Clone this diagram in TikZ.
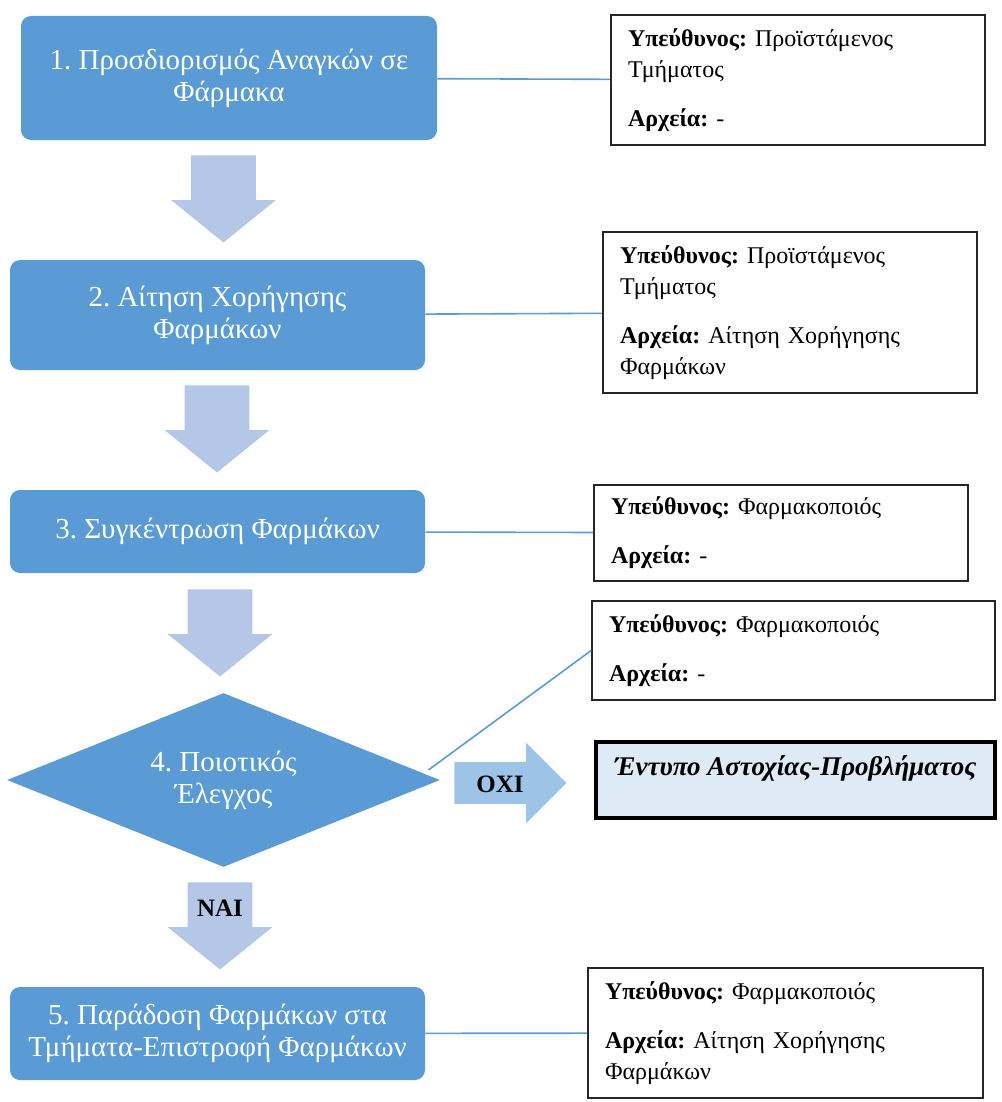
\documentclass[tikz,border=0pt]{standalone}
\usepackage{fontspec}
\setmainfont{Liberation Serif}
\frenchspacing
\usetikzlibrary{shapes.geometric, shapes.arrows, positioning}
\definecolor{stepblue}{HTML}{5B9BD5}
\definecolor{flowblue}{HTML}{B4C7E7}
\definecolor{noblue}{HTML}{9DC3E6}
\definecolor{formblue}{HTML}{DEEBF7}

\begin{document}
\begin{tikzpicture}[x=0.5pt,y=-0.5pt]
  \tikzstyle{stepbox}=[rectangle, rounded corners=5pt, fill=stepblue, text=white, inner sep=0pt, align=center, font=\fontsize{14.5}{16}\selectfont]
  \tikzstyle{infobox}=[rectangle, draw=black!85, line width=0.8pt, inner xsep=8.5pt, inner ysep=0pt, align=left, font=\fontsize{12}{15.5}\selectfont]
  \tikzstyle{flow}=[single arrow, anchor=tip, fill=flowblue, shape border rotate=270, text width=24pt, align=center, inner xsep=4pt, inner ysep=0pt, minimum height=43.5pt, single arrow head extend=10pt, single arrow tip angle=102, font=\fontsize{12.5}{14}\bfseries]
  \tikzstyle{link}=[draw=stepblue, line width=0.8pt]
  \useasboundingbox (0,0) rectangle (1001,1102);

  \node[stepbox, minimum width=208pt, minimum height=62pt] (s1) at (229,78) {1. Προσδιορισμός Αναγκών σε\\Φάρμακα};
  \node[stepbox, minimum width=207.5pt, minimum height=55pt] (s2) at (217.5,315) {2. Αίτηση Χορήγησης\\Φαρμάκων};
  \node[stepbox, minimum width=207.5pt, minimum height=41.5pt] (s3) at (217.5,531.5) {3. Συγκέντρωση Φαρμάκων};
  \node[diamond, shape aspect=2.49, fill=stepblue, text=white, inner sep=0pt, minimum width=216.5pt, minimum height=87pt, align=center, font=\fontsize{14.5}{16}\selectfont] (s4) at (223.5,780) {4. Ποιοτικός\\Έλεγχος};
  \node[stepbox, minimum width=207.5pt, minimum height=46.5pt] (s5) at (217.5,1033.5) {5. Παράδοση Φαρμάκων στα\\Τμήματα-Επιστροφή Φαρμάκων};

  \node[flow] (f1) at (223.5,243) {};
  \node[flow] (f2) at (217,473) {};
  \node[flow] (f3) at (220,677) {};
  \node[flow, text height=9pt, text depth=5pt] (f4) at (220,970) {NAI};
  \node[single arrow, anchor=tip, fill=noblue, text height=9pt, text depth=0pt, inner xsep=0pt, inner ysep=5.75pt, minimum height=56pt, single arrow head extend=9.75pt, single arrow tip angle=90, font=\fontsize{12.5}{14}\bfseries] (no) at (567,783) {OXI};

  \node[infobox, minimum width=187pt, minimum height=65pt, text width=170pt] (r1) at (798,80)
    {\textbf{Υπεύθυνος:} Προϊστάμενος\\Τμήματος\\[9pt]\textbf{Αρχεία:} -};
  \node[infobox, minimum width=187pt, minimum height=80.5pt, text width=170pt] (r2) at (790,312.5)
    {\textbf{Υπεύθυνος:} Προϊστάμενος\\Τμήματος\\[9pt]\textbf{Αρχεία:} Αίτηση Χορήγησης\\Φαρμάκων};
  \node[infobox, minimum width=187pt, minimum height=48pt, text width=170pt] (r3) at (781,533)
    {\textbf{Υπεύθυνος:} Φαρμακοποιός\\[9pt]\textbf{Αρχεία:} -};
  \node[infobox, minimum width=201.5pt, minimum height=49.5pt, text width=184.5pt] (r4) at (793.5,650.5)
    {\textbf{Υπεύθυνος:} Φαρμακοποιός\\[9pt]\textbf{Αρχεία:} -};
  \node[rectangle, draw=black, line width=2pt, fill=formblue, minimum width=199.5pt, minimum height=38pt, text height=10pt, text depth=15pt, font=\fontsize{13.5}{15}\bfseries\itshape] (err) at (795.5,780)
    {Έντυπο Αστοχίας-Προβλήματος};
  \node[infobox, minimum width=197.5pt, minimum height=65pt, text width=180.5pt] (r5) at (785.5,1033)
    {\textbf{Υπεύθυνος:} Φαρμακοποιός\\[9pt]\textbf{Αρχεία:} Αίτηση Χορήγησης\\Φαρμάκων};

  \path[link]
    (s1) edge (r1)
    (s2) edge (r2)
    (s3) edge (r3)
    ([xshift=-6pt,yshift=5pt]s4.east) edge (r4.west)
    (s5) edge (r5);
\end{tikzpicture}
\end{document}
